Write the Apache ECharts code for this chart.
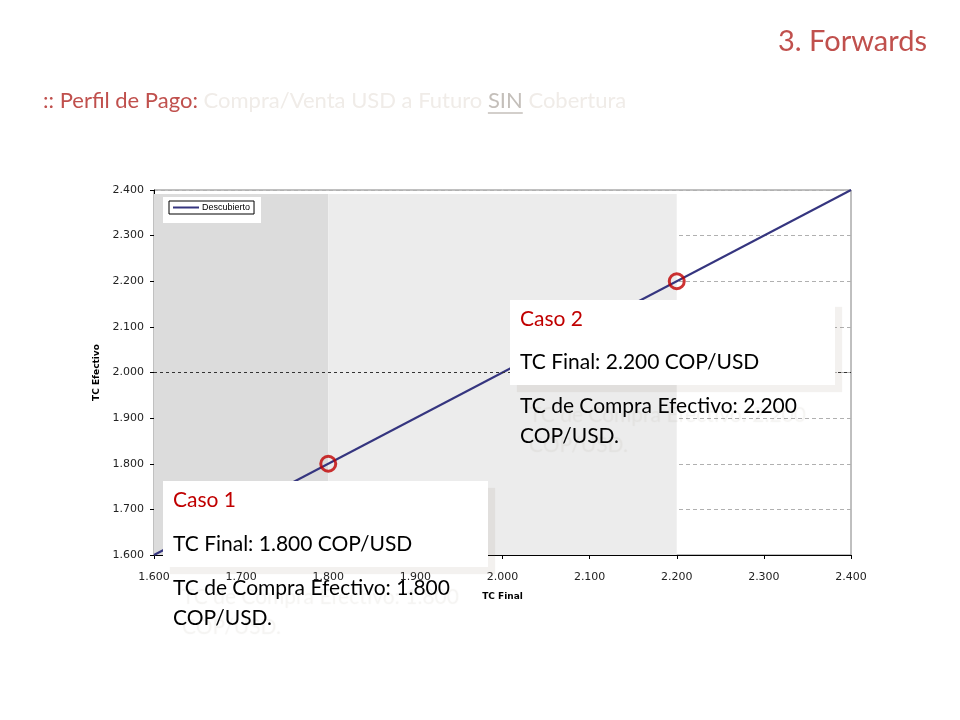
<!DOCTYPE html>
<html><head><meta charset="utf-8">
<script src="https://cdn.jsdelivr.net/npm/echarts@6/dist/echarts.min.js"></script>
<style>html,body{margin:0;padding:0;background:#fff}#c{width:960px;height:720px}</style>
</head><body><div id="c"></div>
<script>
// Data
const seriesName = 'Descubierto';
const tcFinal = [1600, 2400];          // x values
const tcEfectivo = [1600, 2400];       // y values (sin cobertura: efectivo = final)
const caseFinal = [1800, 2200];        // Caso 1, Caso 2
const caseEfectivo = [1800, 2200];
const darkZone = [1600, 1800];
const lightZone = [1800, 2200];
const zoneTop = 2391;
const refLevel = 2000;
const axisMin = 1600, axisMax = 2400, axisStep = 100;

const fmt = v => (v / 1000).toFixed(3);
const chart = echarts.init(document.getElementById('c'), null, {renderer: 'canvas'});
const sans = 'Lato';

// subtitle pieces positioned by measured width
const subFont = '22px ' + sans;
const ctx = document.createElement('canvas').getContext('2d');
ctx.font = subFont;
const subParts = [
  {t: ':: Perfil de Pago: ', c: '#c0504d'},
  {t: 'Compra/Venta USD a Futuro ', c: '#f0ece8'},
  {t: 'SIN', c: '#c4bfba', u: true},
  {t: ' Cobertura', c: '#f0ece8'}
];
const subGraphics = [];
let sx = 43;
subParts.forEach(p => {
  const w = ctx.measureText(p.t).width;
  subGraphics.push({type: 'text', z: 100, style: {x: sx, y: 101, text: p.t, font: subFont, fill: p.c, verticalAlign: 'middle'}});
  if (p.u) subGraphics.push({type: 'line', z: 100, shape: {x1: sx, y1: 113, x2: sx + w, y2: 113}, style: {stroke: p.c, lineWidth: 1.5}});
  sx += w;
});

const shadowStyle = {shadowColor: 'rgba(120,100,80,0.09)', shadowOffsetX: 7, shadowOffsetY: 7, shadowBlur: 1};
const ghost = {textShadowColor: 'rgba(120,100,80,0.08)', textShadowOffsetX: 9, textShadowOffsetY: 9, textShadowBlur: 1};
const boxFont = '21px ' + sans;
function txt(x, y, t, color, g) {
  return {type: 'text', z: 101, style: Object.assign({x: x, y: y, text: t, font: boxFont, fill: color, verticalAlign: 'middle'}, g ? ghost : {})};
}

chart.setOption({
  animation: false,
  backgroundColor: '#fff',
  grid: {left: 154, right: 109, top: 190, bottom: 165, show: true, borderColor: '#808080', borderWidth: 1, backgroundColor: 'transparent'},
  legend: {
    data: [seriesName], left: 169, top: 201, z: 20,
    icon: 'rect',
    borderColor: '#000', borderWidth: 1, backgroundColor: '#fff', borderRadius: 0,
    padding: [2, 4], itemWidth: 26, itemHeight: 2, itemGap: 4,
    textStyle: {fontFamily: 'Liberation Sans', fontSize: 9, color: '#000', padding: [0, 0, 0, -2]}
  },
  xAxis: {
    type: 'value', min: axisMin, max: axisMax, interval: axisStep,
    name: 'TC Final', nameLocation: 'middle', nameGap: 37,
    nameTextStyle: {fontFamily: 'DejaVu Sans', fontSize: 9, fontWeight: 'bold', color: '#000'},
    axisLine: {lineStyle: {color: '#000', width: 1}},
    axisTick: {show: true, length: 4, lineStyle: {color: '#000'}},
    axisLabel: {formatter: fmt, color: '#222', fontFamily: 'DejaVu Sans', fontSize: 11, margin: 17},
    splitLine: {show: false}
  },
  yAxis: {
    type: 'value', min: axisMin, max: axisMax, interval: axisStep,
    name: 'TC Efectivo', nameLocation: 'middle', nameGap: 47, nameRotate: 90,
    nameTextStyle: {fontFamily: 'DejaVu Sans', fontSize: 9, fontWeight: 'bold', color: '#000'},
    axisLine: {show: true, lineStyle: {color: '#000', width: 1}},
    axisTick: {show: true, length: 4, lineStyle: {color: '#000'}},
    axisLabel: {formatter: fmt, color: '#222', fontFamily: 'DejaVu Sans', fontSize: 11, margin: 10},
    splitLine: {show: true, lineStyle: {color: '#b0b0b0', type: [4, 3], width: 1}}
  },
  series: [
    {
      name: 'zones', type: 'line', data: [], z: -1, silent: true,
      markArea: {
        silent: true,
        data: [
          [{xAxis: darkZone[0], yAxis: axisMin, itemStyle: {color: '#dcdcdc'}}, {xAxis: darkZone[1], yAxis: zoneTop}],
          [{xAxis: lightZone[0], yAxis: axisMin, itemStyle: {color: '#ececec'}}, {xAxis: lightZone[1], yAxis: zoneTop}]
        ]
      }
    },
    {
      name: seriesName, type: 'line', symbol: 'none', z: 3,
      data: tcFinal.map((x, i) => [x, tcEfectivo[i]]),
      lineStyle: {color: '#35357f', width: 2},
      itemStyle: {color: '#35357f'},
      markLine: {
        silent: true, symbol: ['none', 'none'], label: {show: false},
        lineStyle: {color: '#333', type: [3, 3], width: 1},
        data: [{yAxis: refLevel}]
      }
    },
    {
      name: 'casos', type: 'scatter', z: 6, symbol: 'circle', symbolSize: 15,
      data: caseFinal.map((x, i) => [x, caseEfectivo[i]]),
      itemStyle: {color: 'rgba(0,0,0,0)', borderColor: '#c00000', borderWidth: 3}
    }
  ],
  graphic: [
    {type: 'rect', z: 15, shape: {x: 163, y: 197, width: 98, height: 26}, style: {fill: '#fff'}},
    {type: 'text', z: 100, style: {x: 778, y: 42, text: '3. Forwards', font: '29px ' + sans, fill: '#c0504d', verticalAlign: 'middle'}},
    ...subGraphics,
    // Caso 2 box
    {type: 'rect', z: 100, shape: {x: 510, y: 300, width: 325, height: 85}, style: Object.assign({fill: '#fff'}, shadowStyle)},
    txt(520, 319, 'Caso 2', '#c00000'),
    txt(520, 362, 'TC Final: 2.200 COP/USD', '#000'),
    txt(520, 406, 'TC de Compra Efectivo: 2.200', '#000', true),
    txt(520, 436, 'COP/USD.', '#000', true),
    // Caso 1 box
    {type: 'rect', z: 100, shape: {x: 163, y: 481, width: 325, height: 86}, style: Object.assign({fill: '#fff'}, shadowStyle)},
    txt(173, 500, 'Caso 1', '#c00000'),
    txt(173, 544, 'TC Final: 1.800 COP/USD', '#000'),
    txt(173, 588, 'TC de Compra Efectivo: 1.800', '#000', true),
    txt(173, 618, 'COP/USD.', '#000', true)
  ]
});
</script></body></html>
